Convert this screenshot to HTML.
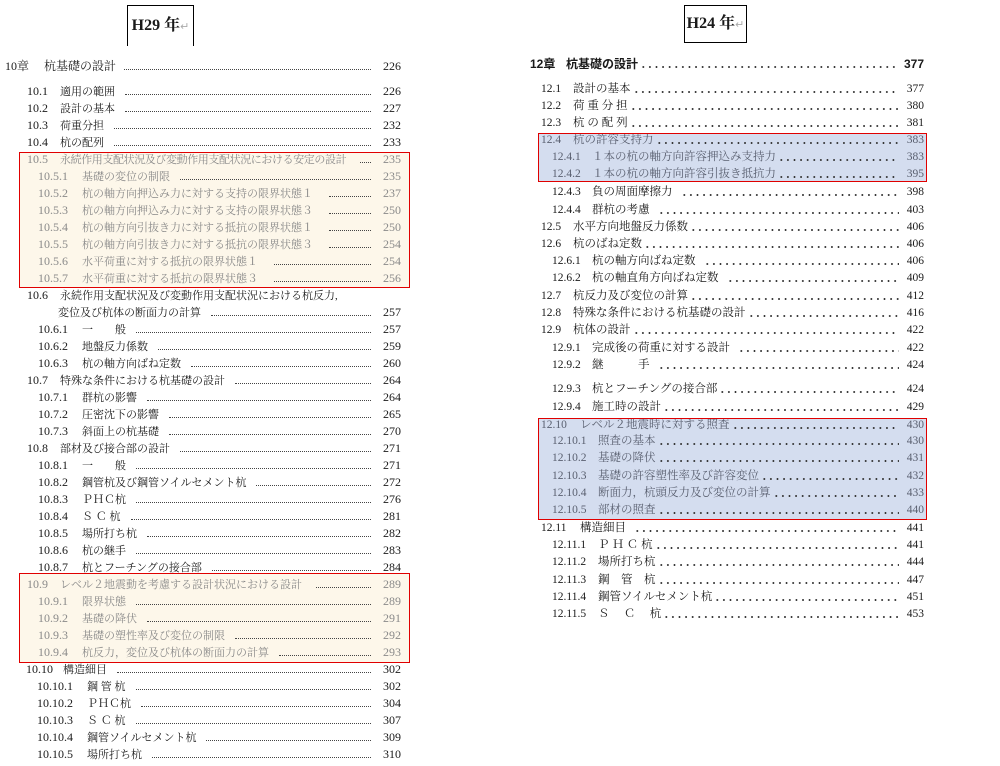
<!DOCTYPE html>
<html><head><meta charset="utf-8"><style>
body{margin:0;width:1000px;height:766px;background:#fff;position:relative;overflow:hidden;font-family:"Liberation Serif","Noto Serif CJK SC",serif;color:#1a1a1a}
.box{position:absolute;border:1px solid #000;font-weight:bold;font-size:16px;text-align:center;white-space:nowrap;font-family:"Liberation Serif","Noto Serif CJK JP",serif}
.box span{color:#aaa;font-weight:normal;font-size:11px}
.hl{position:absolute;border:1.5px solid #e00000}
.r{position:absolute;display:flex;align-items:baseline;height:17px;line-height:17px;font-size:11px;white-space:nowrap}
.r b{font-weight:normal;display:inline-block;flex:none;font-size:12px}
.r i{font-style:normal;flex:none}
.r u{flex:1;text-decoration:none;height:1px;align-self:flex-end;margin:0 12px 5px 10px}
.L{right:599px}
.L u{border-bottom:1px dotted #444}
.L s{text-decoration:none;min-width:18px;text-align:right;font-size:12px}
.R{right:76px;font-size:11.5px}
.R b{font-size:11.5px}
.R u{margin:0 5px 5px 2px;height:2px;background:radial-gradient(circle,#333 0.8px,transparent 1.1px) 0 0/6.6px 2px repeat-x}
.R s{text-decoration:none;min-width:20px;text-align:right}
.g{color:#8a8a8a}
.gb{color:#5a6070}
</style></head><body>
<div class="box" style="left:127px;top:5px;width:65px;height:40px;border-bottom:none;line-height:40px">H29 年<span>↵</span></div>
<div class="box" style="left:684px;top:5px;width:61px;height:36px;line-height:36px">H24 年<span>↵</span></div>

<div style="position:absolute;left:19px;top:152px;width:391px;height:136px;background:#fdf7ea"></div>
<div style="position:absolute;left:19px;top:573px;width:391px;height:90px;background:#fdf7ea"></div>
<div style="position:absolute;left:538px;top:133px;width:389px;height:49px;background:#d4ddef"></div>
<div style="position:absolute;left:538px;top:418px;width:389px;height:102px;background:#d4ddef"></div>

<!-- LEFT -->
<div class="r L" style="top:58px;left:5px;font-size:12px"><b style="width:39px">10章</b><i>杭基礎の設計</i><u style="margin-left:8px"></u><s>226</s></div>
<div class="r L" style="top:83px;left:27px"><b style="width:33px">10.1</b><i>適用の範囲</i><u></u><s>226</s></div>
<div class="r L" style="top:100px;left:27px"><b style="width:33px">10.2</b><i>設計の基本</i><u></u><s>227</s></div>
<div class="r L" style="top:117px;left:27px"><b style="width:33px">10.3</b><i>荷重分担</i><u></u><s>232</s></div>
<div class="r L" style="top:134px;left:27px"><b style="width:33px">10.4</b><i>杭の配列</i><u></u><s>233</s></div>
<div class="r L g" style="top:151px;left:27px"><b style="width:33px">10.5</b><i style="letter-spacing:-0.4px">永続作用支配状況及び変動作用支配状況における安定の設計</i><u style="margin-left:14px"></u><s>235</s></div>
<div class="r L g" style="top:168px;left:38px"><b style="width:44px">10.5.1</b><i>基礎の変位の制限</i><u></u><s>235</s></div>
<div class="r L g" style="top:185px;left:38px"><b style="width:44px">10.5.2</b><i>杭の軸方向押込み力に対する支持の限界状態１</i><u style="margin-left:16px"></u><s>237</s></div>
<div class="r L g" style="top:202px;left:38px"><b style="width:44px">10.5.3</b><i>杭の軸方向押込み力に対する支持の限界状態３</i><u style="margin-left:16px"></u><s>250</s></div>
<div class="r L g" style="top:219px;left:38px"><b style="width:44px">10.5.4</b><i>杭の軸方向引抜き力に対する抵抗の限界状態１</i><u style="margin-left:16px"></u><s>250</s></div>
<div class="r L g" style="top:236px;left:38px"><b style="width:44px">10.5.5</b><i>杭の軸方向引抜き力に対する抵抗の限界状態３</i><u style="margin-left:16px"></u><s>254</s></div>
<div class="r L g" style="top:253px;left:38px"><b style="width:44px">10.5.6</b><i>水平荷重に対する抵抗の限界状態１</i><u style="margin-left:16px"></u><s>254</s></div>
<div class="r L g" style="top:270px;left:38px"><b style="width:44px">10.5.7</b><i>水平荷重に対する抵抗の限界状態３</i><u style="margin-left:16px"></u><s>256</s></div>
<div class="r L" style="top:287px;left:27px"><b style="width:33px">10.6</b><i>永続作用支配状況及び変動作用支配状況における杭反力,</i></div>
<div class="r L" style="top:304px;left:58px"><i>変位及び杭体の断面力の計算</i><u></u><s>257</s></div>
<div class="r L" style="top:321px;left:38px"><b style="width:44px">10.6.1</b><i>一　　般</i><u></u><s>257</s></div>
<div class="r L" style="top:338px;left:38px"><b style="width:44px">10.6.2</b><i>地盤反力係数</i><u></u><s>259</s></div>
<div class="r L" style="top:355px;left:38px"><b style="width:44px">10.6.3</b><i>杭の軸方向ばね定数</i><u></u><s>260</s></div>
<div class="r L" style="top:372px;left:27px"><b style="width:33px">10.7</b><i>特殊な条件における杭基礎の設計</i><u></u><s>264</s></div>
<div class="r L" style="top:389px;left:38px"><b style="width:44px">10.7.1</b><i>群杭の影響</i><u></u><s>264</s></div>
<div class="r L" style="top:406px;left:38px"><b style="width:44px">10.7.2</b><i>圧密沈下の影響</i><u></u><s>265</s></div>
<div class="r L" style="top:423px;left:38px"><b style="width:44px">10.7.3</b><i>斜面上の杭基礎</i><u></u><s>270</s></div>
<div class="r L" style="top:440px;left:27px"><b style="width:33px">10.8</b><i>部材及び接合部の設計</i><u></u><s>271</s></div>
<div class="r L" style="top:457px;left:38px"><b style="width:44px">10.8.1</b><i>一　　般</i><u></u><s>271</s></div>
<div class="r L" style="top:474px;left:38px"><b style="width:44px">10.8.2</b><i>鋼管杭及び鋼管ソイルセメント杭</i><u></u><s>272</s></div>
<div class="r L" style="top:491px;left:38px"><b style="width:44px">10.8.3</b><i>ＰＨＣ杭</i><u></u><s>276</s></div>
<div class="r L" style="top:508px;left:38px"><b style="width:44px">10.8.4</b><i>Ｓ Ｃ 杭</i><u></u><s>281</s></div>
<div class="r L" style="top:525px;left:38px"><b style="width:44px">10.8.5</b><i>場所打ち杭</i><u></u><s>282</s></div>
<div class="r L" style="top:542px;left:38px"><b style="width:44px">10.8.6</b><i>杭の継手</i><u></u><s>283</s></div>
<div class="r L" style="top:559px;left:38px"><b style="width:44px">10.8.7</b><i>杭とフーチングの接合部</i><u></u><s>284</s></div>
<div class="r L g" style="top:576px;left:27px"><b style="width:33px">10.9</b><i>レベル２地震動を考慮する設計状況における設計</i><u style="margin-left:14px"></u><s>289</s></div>
<div class="r L g" style="top:593px;left:38px"><b style="width:44px">10.9.1</b><i>限界状態</i><u></u><s>289</s></div>
<div class="r L g" style="top:610px;left:38px"><b style="width:44px">10.9.2</b><i>基礎の降伏</i><u></u><s>291</s></div>
<div class="r L g" style="top:627px;left:38px"><b style="width:44px">10.9.3</b><i>基礎の塑性率及び変位の制限</i><u></u><s>292</s></div>
<div class="r L g" style="top:644px;left:38px"><b style="width:44px">10.9.4</b><i>杭反力，変位及び杭体の断面力の計算</i><u></u><s>293</s></div>
<div class="r L" style="top:661px;left:26px"><b style="width:37px">10.10</b><i>構造細目</i><u></u><s>302</s></div>
<div class="r L" style="top:678px;left:37px"><b style="width:50px">10.10.1</b><i>鋼 管 杭</i><u></u><s>302</s></div>
<div class="r L" style="top:695px;left:37px"><b style="width:50px">10.10.2</b><i>ＰＨＣ杭</i><u></u><s>304</s></div>
<div class="r L" style="top:712px;left:37px"><b style="width:50px">10.10.3</b><i>Ｓ Ｃ 杭</i><u></u><s>307</s></div>
<div class="r L" style="top:729px;left:37px"><b style="width:50px">10.10.4</b><i>鋼管ソイルセメント杭</i><u></u><s>309</s></div>
<div class="r L" style="top:746px;left:37px"><b style="width:50px">10.10.5</b><i>場所打ち杭</i><u></u><s>310</s></div>

<!-- RIGHT -->
<div class="r R" style="top:56px;left:530px;font-weight:bold;font-family:'Liberation Sans','Noto Sans CJK JP',sans-serif;font-size:12px"><b style="width:36px;font-weight:bold;font-size:12px">12章</b><i>杭基礎の設計</i><u></u><s>377</s></div>
<div class="r R" style="top:81px;left:541px"><b style="width:32px">12.1</b><i>設計の基本</i><u></u><s>377</s></div>
<div class="r R" style="top:98px;left:541px"><b style="width:32px">12.2</b><i>荷 重 分 担</i><u></u><s>380</s></div>
<div class="r R" style="top:115px;left:541px"><b style="width:32px">12.3</b><i>杭 の 配 列</i><u></u><s>381</s></div>
<div class="r R gb" style="top:132px;left:541px"><b style="width:32px">12.4</b><i>杭の許容支持力</i><u></u><s>383</s></div>
<div class="r R gb" style="top:149px;left:552px"><b style="width:40px">12.4.1</b><i>１本の杭の軸方向許容押込み支持力</i><u></u><s>383</s></div>
<div class="r R gb" style="top:166px;left:552px"><b style="width:40px">12.4.2</b><i>１本の杭の軸方向許容引抜き抵抗力</i><u></u><s>395</s></div>
<div class="r R" style="top:184px;left:552px"><b style="width:40px">12.4.3</b><i>負の周面摩擦力</i><u style="margin-left:8px"></u><s>398</s></div>
<div class="r R" style="top:202px;left:552px"><b style="width:40px">12.4.4</b><i>群杭の考慮</i><u style="margin-left:8px"></u><s>403</s></div>
<div class="r R" style="top:219px;left:541px"><b style="width:32px">12.5</b><i>水平方向地盤反力係数</i><u></u><s>406</s></div>
<div class="r R" style="top:236px;left:541px"><b style="width:32px">12.6</b><i>杭のばね定数</i><u></u><s>406</s></div>
<div class="r R" style="top:253px;left:552px"><b style="width:40px">12.6.1</b><i>杭の軸方向ばね定数</i><u style="margin-left:8px"></u><s>406</s></div>
<div class="r R" style="top:270px;left:552px"><b style="width:40px">12.6.2</b><i>杭の軸直角方向ばね定数</i><u style="margin-left:8px"></u><s>409</s></div>
<div class="r R" style="top:288px;left:541px"><b style="width:32px">12.7</b><i>杭反力及び変位の計算</i><u></u><s>412</s></div>
<div class="r R" style="top:305px;left:541px"><b style="width:32px">12.8</b><i>特殊な条件における杭基礎の設計</i><u></u><s>416</s></div>
<div class="r R" style="top:322px;left:541px"><b style="width:32px">12.9</b><i>杭体の設計</i><u></u><s>422</s></div>
<div class="r R" style="top:340px;left:552px"><b style="width:40px">12.9.1</b><i>完成後の荷重に対する設計</i><u style="margin-left:8px"></u><s>422</s></div>
<div class="r R" style="top:357px;left:552px"><b style="width:40px">12.9.2</b><i>継　　　手</i><u style="margin-left:8px"></u><s>424</s></div>
<div class="r R" style="top:381px;left:552px"><b style="width:40px">12.9.3</b><i>杭とフーチングの接合部</i><u></u><s>424</s></div>
<div class="r R" style="top:399px;left:552px"><b style="width:40px">12.9.4</b><i>施工時の設計</i><u></u><s>429</s></div>
<div class="r R gb" style="top:417px;left:541px"><b style="width:39px">12.10</b><i>レベル２地震時に対する照査</i><u></u><s>430</s></div>
<div class="r R gb" style="top:433px;left:552px"><b style="width:46px">12.10.1</b><i>照査の基本</i><u></u><s>430</s></div>
<div class="r R gb" style="top:450px;left:552px"><b style="width:46px">12.10.2</b><i>基礎の降伏</i><u></u><s>431</s></div>
<div class="r R gb" style="top:468px;left:552px"><b style="width:46px">12.10.3</b><i>基礎の許容塑性率及び許容変位</i><u></u><s>432</s></div>
<div class="r R gb" style="top:485px;left:552px"><b style="width:46px">12.10.4</b><i>断面力，杭頭反力及び変位の計算</i><u></u><s>433</s></div>
<div class="r R gb" style="top:502px;left:552px"><b style="width:46px">12.10.5</b><i>部材の照査</i><u></u><s>440</s></div>
<div class="r R" style="top:520px;left:541px"><b style="width:39px">12.11</b><i>構造細目</i><u style="margin-left:8px"></u><s>441</s></div>
<div class="r R" style="top:537px;left:552px"><b style="width:46px">12.11.1</b><i>Ｐ Ｈ Ｃ 杭</i><u></u><s>441</s></div>
<div class="r R" style="top:554px;left:552px"><b style="width:46px">12.11.2</b><i>場所打ち杭</i><u></u><s>444</s></div>
<div class="r R" style="top:572px;left:552px"><b style="width:46px">12.11.3</b><i>鋼　管　杭</i><u></u><s>447</s></div>
<div class="r R" style="top:589px;left:552px"><b style="width:46px">12.11.4</b><i>鋼管ソイルセメント杭</i><u></u><s>451</s></div>
<div class="r R" style="top:606px;left:552px"><b style="width:46px">12.11.5</b><i>Ｓ　 Ｃ　 杭</i><u></u><s>453</s></div>

<div class="hl" style="left:19px;top:152px;width:389px;height:134px"></div>
<div class="hl" style="left:19px;top:573px;width:389px;height:88px"></div>
<div class="hl" style="left:538px;top:133px;width:387px;height:47px"></div>
<div class="hl" style="left:538px;top:418px;width:387px;height:100px"></div>
</body></html>
